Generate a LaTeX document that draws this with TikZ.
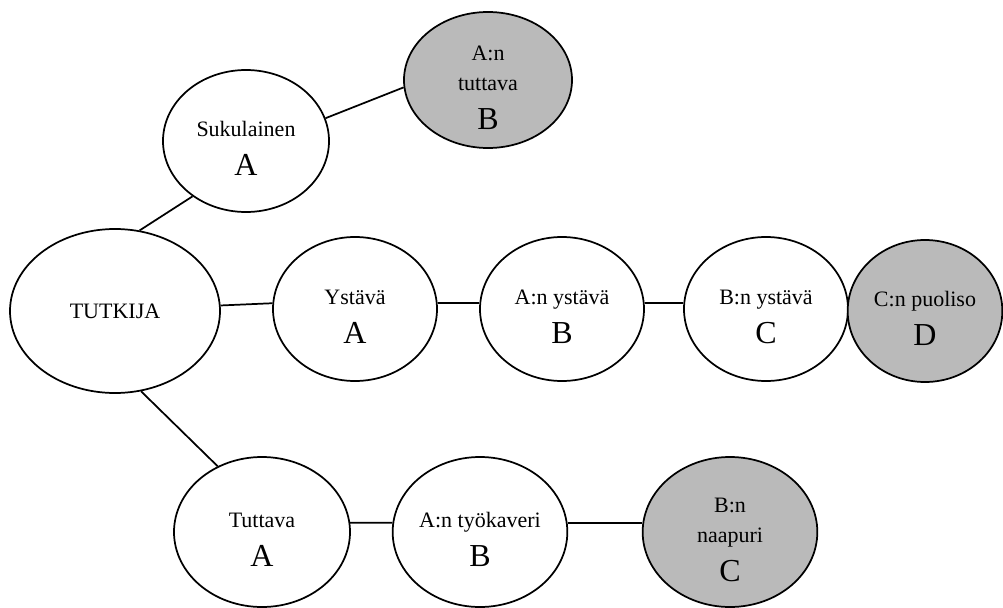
\documentclass[tikz,border=0pt]{standalone}
\usepackage{fontspec}
\setmainfont{Liberation Serif}
\usetikzlibrary{shapes.geometric}
\newcommand{\pers}[2]{\raisebox{-11pt}[0pt][0pt]{\begin{tabular}{@{}c@{}}#1\\[7pt]\fontsize{24}{26}\selectfont #2\end{tabular}}}

\begin{document}
\begin{tikzpicture}[x=0.75pt,y=-0.75pt,line width=1.3pt,
  henkilo/.style={ellipse,draw=black,inner sep=0pt,font=\fontsize{16.5}{22.5}\selectfont},
  kaukainen/.style={henkilo,fill=black!27}]
\useasboundingbox (0,0) rectangle (1003,607);

\node[henkilo,minimum width=157.5pt,minimum height=123pt] (tutkija) at (115,311) {TUTKIJA};
\node[henkilo,minimum width=124.5pt,minimum height=106.5pt] (suku) at (246,141) {\pers{Sukulainen}{A}};
\node[kaukainen,minimum width=126pt,minimum height=102pt] (tuttB) at (488,80) {\pers{A:n\\tuttava}{B}};

\node[henkilo,minimum width=123pt,minimum height=108pt] (ystA) at (355,309) {\pers{Ystävä}{A}};
\node[henkilo,minimum width=123pt,minimum height=108pt] (ystB) at (562,309) {\pers{A:n ystävä}{B}};
\node[henkilo,minimum width=123pt,minimum height=108pt] (ystC) at (766,309) {\pers{B:n ystävä}{C}};
\node[kaukainen,minimum width=116pt,minimum height=106.5pt] (puoliso) at (925,311) {\pers{C:n puoliso}{D}};

\node[henkilo,minimum width=132pt,minimum height=112.5pt] (tutA) at (262,532) {\pers{Tuttava}{A}};
\node[henkilo,minimum width=131pt,minimum height=112.5pt] (tyoB) at (480,532) {\pers{A:n työkaveri}{B}};
\node[kaukainen,minimum width=131pt,minimum height=112.5pt] (naapC) at (730,532) {\pers{B:n\\naapuri}{C}};

\draw (tutkija.73) -- (suku.226);
\draw (suku.16) -- (tuttB.185);
\draw (tutkija.3) -- (ystA.176);
\draw (ystA.4) -- (ystB.176);
\draw (ystB.4) -- (ystC.176);
\draw (tutkija.288) -- (tutA.124);
\draw (tutA.6) -- (tyoB.174);
\draw (tyoB.6) -- (naapC.174);
\end{tikzpicture}
\end{document}
